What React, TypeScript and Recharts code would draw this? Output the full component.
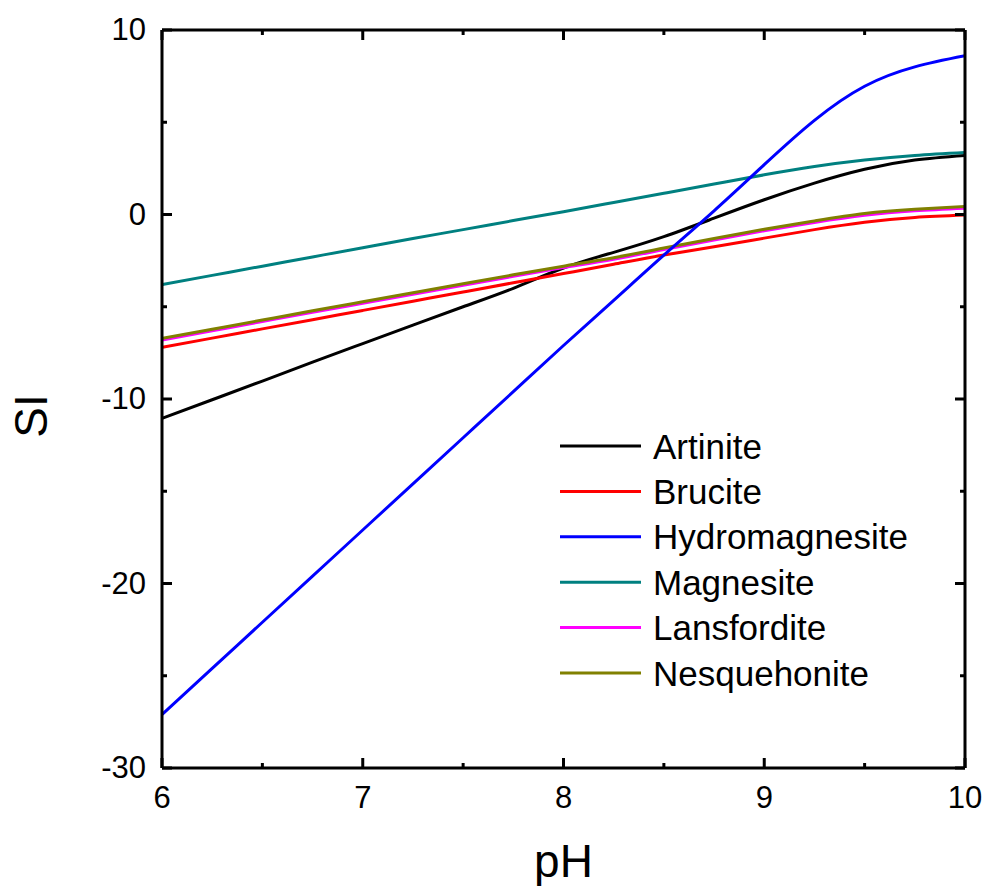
import React from 'react';
import { LineChart, Line, XAxis, YAxis, Legend, Label } from 'recharts';

// values (SI vs pH)
const phValues = [6, 6.25, 6.5, 6.75, 7, 7.25, 7.5, 7.75, 8, 8.25, 8.5, 8.75, 9, 9.25, 9.5, 9.75, 10];
const artinite = [-11.05, -10.04, -9.03, -8.0, -7.0, -6.0, -5.0, -4.0, -2.9, -2.05, -1.2, -0.2, 0.8, 1.7, 2.45, 2.95, 3.2];
const brucite = [-7.2, -6.7, -6.2, -5.7, -5.2, -4.7, -4.2, -3.7, -3.2, -2.7, -2.2, -1.75, -1.28, -0.82, -0.42, -0.16, -0.03];
const hydromagnesite = [-27.1, -24.6, -22.1, -19.6, -17.1, -14.6, -12.1, -9.6, -7.1, -4.65, -2.2, 0.2, 2.7, 5.1, 6.95, 8.0, 8.6];
const magnesite = [-3.8, -3.3, -2.8, -2.3, -1.8, -1.3, -0.82, -0.33, 0.15, 0.65, 1.15, 1.65, 2.15, 2.6, 2.95, 3.2, 3.36];
const lansfordite = [-6.8, -6.3, -5.8, -5.3, -4.81, -4.32, -3.83, -3.35, -2.88, -2.42, -1.9, -1.38, -0.88, -0.43, -0.04, 0.2, 0.34];
const nesquehonite = [-6.72, -6.22, -5.72, -5.22, -4.73, -4.24, -3.75, -3.27, -2.8, -2.34, -1.82, -1.3, -0.8, -0.35, 0.05, 0.28, 0.43];

const seriesNames = ['Artinite', 'Brucite', 'Hydromagnesite', 'Magnesite', 'Lansfordite', 'Nesquehonite'];
const seriesColors = ['#000000', '#ff0000', '#0000ff', '#008080', '#ff00ff', '#808000'];
const seriesValues = [artinite, brucite, hydromagnesite, magnesite, lansfordite, nesquehonite];
// drawing order (blue on top)
const drawOrder = [0, 1, 3, 4, 5, 2];

const xTicks = [6, 6.5, 7, 7.5, 8, 8.5, 9, 9.5, 10];
const yTicks = [-30, -25, -20, -15, -10, -5, 0, 5, 10];

const data = phValues.map((p, i) => {
  const row: Record<string, number> = { pH: p };
  seriesNames.forEach((n, k) => { row[n] = seriesValues[k][i]; });
  return row;
});

const FONT = '"Liberation Sans", Arial, sans-serif';

const BottomTick = (props: any) => {
  const { x, y, payload } = props;
  const major = Number.isInteger(payload.value);
  return (
    <g>
      <line x1={x} y1={y} x2={x} y2={y - (major ? 10 : 5)} stroke="#000" strokeWidth={3} />
      {major && (
        <text x={x} y={y + 40} textAnchor="middle" fontSize={31} fontFamily={FONT} fill="#000">
          {payload.value}
        </text>
      )}
    </g>
  );
};

const TopTick = (props: any) => {
  const { x, y, payload } = props;
  const major = Number.isInteger(payload.value);
  return <line x1={x} y1={y} x2={x} y2={y + (major ? 10 : 5)} stroke="#000" strokeWidth={3} />;
};

const LeftTick = (props: any) => {
  const { x, y, payload } = props;
  const major = payload.value % 10 === 0;
  return (
    <g>
      <line x1={x} y1={y} x2={x + (major ? 10 : 5)} y2={y} stroke="#000" strokeWidth={3} />
      {major && (
        <text x={x - 16} y={y + 10} textAnchor="end" fontSize={31} fontFamily={FONT} fill="#000">
          {payload.value}
        </text>
      )}
    </g>
  );
};

const RightTick = (props: any) => {
  const { x, y, payload } = props;
  const major = payload.value % 10 === 0;
  return <line x1={x} y1={y} x2={x - (major ? 10 : 5)} y2={y} stroke="#000" strokeWidth={3} />;
};

const LegendBox = () => (
  <svg width={400} height={290}>
    {seriesNames.map((n, i) => {
      const cy = 26 + i * 45.4;
      return (
        <g key={n}>
          <line x1={5} y1={cy} x2={86} y2={cy} stroke={seriesColors[i]} strokeWidth={3} />
          <text x={98} y={cy + 12.5} fontSize={35} fontFamily={FONT} fill="#000">
            {n}
          </text>
        </g>
      );
    })}
  </svg>
);

export default function App() {
  return (
    <div style={{ position: 'absolute', left: 0, top: 0, background: '#fff' }}>
      <LineChart width={987} height={886} data={data} margin={{ top: 29, right: 21, left: 62, bottom: 58 }}>
        <XAxis
          dataKey="pH"
          type="number"
          domain={[6, 10]}
          ticks={xTicks}
          interval={0}
          height={60}
          tickSize={0}
          tickMargin={0}
          tickLine={false}
          axisLine={{ stroke: '#000', strokeWidth: 3 }}
          tick={<BottomTick />}
          allowDataOverflow
        >
          <Label
            content={(p: any) => {
              const vb = p.viewBox;
              return (
                <text x={vb.x + vb.width / 2} y={877} textAnchor="middle" fontSize={46} fontFamily={FONT} fill="#000">
                  pH
                </text>
              );
            }}
          />
        </XAxis>
        <XAxis
          xAxisId="top"
          dataKey="pH"
          orientation="top"
          type="number"
          domain={[6, 10]}
          ticks={xTicks}
          interval={0}
          height={1}
          tickSize={0}
          tickMargin={0}
          tickLine={false}
          axisLine={{ stroke: '#000', strokeWidth: 3 }}
          tick={<TopTick />}
          allowDataOverflow
        />
        <YAxis
          type="number"
          domain={[-30, 10]}
          ticks={yTicks}
          interval={0}
          width={100}
          tickSize={0}
          tickMargin={0}
          tickLine={false}
          axisLine={{ stroke: '#000', strokeWidth: 3 }}
          tick={<LeftTick />}
          allowDataOverflow
        >
          <Label
            content={(p: any) => {
              const vb = p.viewBox;
              const cx = vb.x - 15;
              const cy = 416;
              return (
                <text x={cx} y={cy} transform={`rotate(-90 ${cx} ${cy})`} textAnchor="middle" fontSize={46} fontFamily={FONT} fill="#000">
                  SI
                </text>
              );
            }}
          />
        </YAxis>
        <YAxis
          yAxisId="right"
          orientation="right"
          type="number"
          domain={[-30, 10]}
          ticks={yTicks}
          interval={0}
          width={1}
          tickSize={0}
          tickMargin={0}
          tickLine={false}
          axisLine={{ stroke: '#000', strokeWidth: 3 }}
          tick={<RightTick />}
          allowDataOverflow
        />
        <Legend
          layout="vertical"
          align="center"
          verticalAlign="middle"
          wrapperStyle={{ position: 'absolute', left: 555, top: 420, width: 400, height: 290 }}
          content={() => <LegendBox />}
        />
        {/* invisible series so the top/right frame axes get registered */}
        <Line
          dataKey="Magnesite"
          xAxisId="top"
          yAxisId="right"
          stroke="none"
          dot={false}
          activeDot={false}
          legendType="none"
          isAnimationActive={false}
        />
        {drawOrder.map((k) => (
          <Line
            key={seriesNames[k]}
            dataKey={seriesNames[k]}
            type="natural"
            stroke={seriesColors[k]}
            strokeWidth={3}
            dot={false}
            activeDot={false}
            isAnimationActive={false}
          />
        ))}
      </LineChart>
    </div>
  );
}
